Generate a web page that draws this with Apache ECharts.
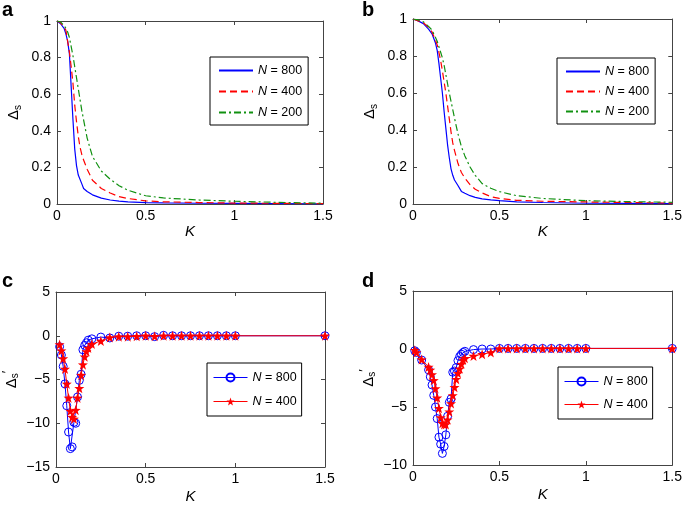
<!DOCTYPE html>
<html>
<head>
<meta charset="utf-8">
<script src="https://cdn.jsdelivr.net/npm/echarts@6/dist/echarts.min.js"></script>
<style>html,body{margin:0;padding:0;background:#fff}#c{width:685px;height:506px}</style>
</head>
<body>
<div id="c"></div>
<script>
// ---------- Panel a ----------
const kA   = [0, 0.02, 0.04, 0.05, 0.06, 0.07, 0.08, 0.09, 0.10, 0.11, 0.12, 0.13, 0.14, 0.15, 0.17, 0.20, 0.25, 0.30, 0.35, 0.40, 0.50, 0.60, 0.80, 1.00, 1.20, 1.50];
const a800 = [1.0, 0.985, 0.96, 0.93, 0.89, 0.82, 0.64, 0.46, 0.30, 0.21, 0.158, 0.15, 0.11, 0.085, 0.068, 0.05, 0.032, 0.022, 0.016, 0.012, 0.008, 0.006, 0.004, 0.003, 0.002, 0.001];
const a400 = [1.0, 0.99, 0.965, 0.95, 0.89, 0.83, 0.75, 0.66, 0.54, 0.45, 0.37, 0.31, 0.27, 0.24, 0.19, 0.13, 0.085, 0.06, 0.04, 0.03, 0.017, 0.012, 0.008, 0.005, 0.004, 0.002];
const a200 = [1.0, 0.995, 0.975, 0.96, 0.94, 0.91, 0.86, 0.81, 0.75, 0.69, 0.63, 0.57, 0.51, 0.46, 0.36, 0.26, 0.18, 0.135, 0.10, 0.075, 0.045, 0.033, 0.022, 0.015, 0.010, 0.004];
// ---------- Panel b ----------
const kB   = [0, 0.03, 0.06, 0.09, 0.11, 0.13, 0.14, 0.15, 0.16, 0.17, 0.18, 0.19, 0.20, 0.21, 0.22, 0.23, 0.24, 0.26, 0.28, 0.30, 0.33, 0.36, 0.40, 0.45, 0.50, 0.60, 0.75, 1.00, 1.25, 1.50];
const b800 = [1.0, 0.99, 0.975, 0.945, 0.92, 0.87, 0.83, 0.76, 0.68, 0.60, 0.50, 0.41, 0.32, 0.25, 0.19, 0.155, 0.13, 0.10, 0.068, 0.058, 0.045, 0.036, 0.028, 0.022, 0.018, 0.012, 0.008, 0.004, 0.003, 0.002];
const b400 = [1.0, 0.99, 0.98, 0.955, 0.93, 0.885, 0.86, 0.82, 0.775, 0.72, 0.66, 0.60, 0.53, 0.46, 0.39, 0.33, 0.29, 0.22, 0.17, 0.14, 0.105, 0.08, 0.06, 0.04, 0.03, 0.02, 0.015, 0.011, 0.008, 0.005];
const b200 = [1.0, 0.995, 0.985, 0.96, 0.94, 0.90, 0.88, 0.85, 0.82, 0.79, 0.75, 0.70, 0.65, 0.60, 0.555, 0.51, 0.465, 0.38, 0.31, 0.26, 0.20, 0.155, 0.11, 0.085, 0.067, 0.045, 0.03, 0.018, 0.013, 0.009];
// ---------- Panel c ----------
const kC   = [0.02, 0.03, 0.04, 0.05, 0.06, 0.07, 0.08, 0.09, 0.10, 0.11, 0.12, 0.13, 0.14, 0.15, 0.16, 0.17, 0.18, 0.20, 0.25, 0.30, 0.35, 0.40, 0.45, 0.50, 0.55, 0.60, 0.65, 0.70, 0.75, 0.80, 0.85, 0.90, 0.95, 1.00, 1.50];
const c800 = [-1.25, -2.2, -3.5, -5.5, -8.0, -11.0, -12.9, -12.7, -9.9, -10.0, -7.0, -5.1, -4.4, -1.6, -1.1, -0.8, -0.5, -0.35, -0.15, -0.25, -0.05, -0.05, 0, 0, -0.1, 0.05, 0, 0, 0, 0, 0, 0, 0, 0, 0];
const c400 = [-1.0, -1.7, -2.6, -3.8, -5.5, -7.1, -8.6, -9.3, -9.5, -8.5, -7.1, -6.0, -4.5, -3.3, -2.4, -1.8, -1.4, -0.95, -0.6, -0.2, -0.1, -0.1, -0.05, 0, -0.05, 0, 0, 0, 0, 0, 0, 0, 0, 0, 0];
// ---------- Panel d ----------
const kD   = [0.01, 0.02, 0.05, 0.09, 0.10, 0.11, 0.12, 0.13, 0.14, 0.15, 0.16, 0.17, 0.18, 0.19, 0.20, 0.21, 0.22, 0.23, 0.24, 0.25, 0.26, 0.27, 0.28, 0.29, 0.30, 0.35, 0.40, 0.45, 0.50, 0.55, 0.60, 0.65, 0.70, 0.75, 0.80, 0.85, 0.90, 0.95, 1.00, 1.50];
const d800 = [-0.15, -0.3, -0.95, -1.8, -2.4, -3.1, -4.0, -5.0, -6.0, -7.6, -8.2, -9.0, -8.4, -7.4, -5.8, -4.6, -4.3, -2.0, -1.9, -1.6, -1.0, -0.65, -0.45, -0.3, -0.2, -0.05, 0, 0, 0.05, 0.05, 0.05, 0.05, 0.05, 0.05, 0.05, 0.05, 0.05, 0.05, 0.05, 0.05];
const d400 = [-0.1, -0.3, -0.9, -1.55, -1.8, -2.2, -2.7, -3.4, -4.2, -5.1, -5.9, -6.4, -6.5, -6.5, -6.1, -5.4, -4.7, -4.0, -3.3, -2.6, -2.1, -1.7, -1.3, -0.95, -0.8, -0.6, -0.45, -0.3, 0.05, 0.05, 0.05, 0.05, 0.05, 0.05, 0.05, 0.05, 0.05, 0.05, 0.05, 0.05];
// ---------- ticks ----------
const kTicks = [0, 0.5, 1, 1.5];
const yTicksAB = [0, 0.2, 0.4, 0.6, 0.8, 1];
const yTicksC = [-15, -10, -5, 0, 5];
const yTicksD = [-10, -5, 0, 5];

const pairs = (xs, ys) => xs.map((x, i) => [x, ys[i]]);
const FONT = '"Liberation Sans", Arial, Helvetica, sans-serif';
const AX = '#444';

const grids = [
  {left: 57, top: 21, width: 266, height: 183},
  {left: 413, top: 19, width: 261, height: 185},
  {left: 56, top: 292, width: 269, height: 175},
  {left: 413, top: 291, width: 260, height: 174}
];
const yRanges = [
  [yTicksAB[0], yTicksAB[yTicksAB.length - 1], 0.2],
  [yTicksAB[0], yTicksAB[yTicksAB.length - 1], 0.2],
  [yTicksC[0], yTicksC[yTicksC.length - 1], 5],
  [yTicksD[0], yTicksD[yTicksD.length - 1], 5]
];
const yNames = ['{d|Δ}{s|s}', '{d|Δ}{s|s}', '{d|Δ}{s|s}{p|′}', '{d|Δ}{s|s}{p|′}'];
const kGaps = [14, 14, 22, 22];

const xAxes = [], yAxes = [];
grids.forEach((g, gi) => {
  ['bottom', 'top'].forEach(pos => {
    xAxes.push({
      type: 'value', gridIndex: gi, position: pos,
      min: kTicks[0], max: kTicks[kTicks.length - 1], interval: 0.5,
      axisLine: {show: true, onZero: false, lineStyle: {color: AX, width: 1}},
      axisTick: {show: true, inside: true, length: 4, lineStyle: {color: AX}},
      axisLabel: {show: pos === 'bottom', color: '#000', fontSize: 14, fontFamily: FONT, margin: 5},
      splitLine: {show: false},
      name: pos === 'bottom' ? 'K' : '',
      nameLocation: 'middle', nameGap: kGaps[gi],
      nameTextStyle: {fontStyle: 'italic', fontSize: 15, color: '#000', fontFamily: FONT, verticalAlign: 'top'}
    });
  });
  ['left', 'right'].forEach(pos => {
    const r = yRanges[gi];
    yAxes.push({
      type: 'value', gridIndex: gi, position: pos,
      min: r[0], max: r[1], interval: r[2],
      axisLine: {show: true, onZero: false, lineStyle: {color: AX, width: 1}},
      axisTick: {show: true, inside: true, length: 4, lineStyle: {color: AX}},
      axisLabel: {show: pos === 'left', color: '#000', fontSize: 14, fontFamily: FONT, margin: 6,
        formatter: v => String(v).replace('-', '\u2212')},
      splitLine: {show: false},
      name: pos === 'left' ? yNames[gi] : '',
      nameLocation: 'middle', nameGap: 34, nameRotate: 90,
      nameTextStyle: {
        color: '#000', fontFamily: FONT,
        rich: {
          d: {fontSize: 15, fontFamily: FONT, color: '#000'},
          s: {fontSize: 10, fontFamily: FONT, color: '#000', padding: [8, 0, 0, 0]},
          p: {fontSize: 13, fontFamily: FONT, color: '#000', padding: [0, 0, 8, 0]}
        }
      }
    });
  });
});

const BLUE = '#0000ff', RED = '#ff0000', GREEN = '#119111';
const starPath = 'path://M0,-10 L2.35,-3.24 9.51,-3.09 3.8,1.24 5.88,8.09 0,4 -5.88,8.09 -3.8,1.24 -9.51,-3.09 -2.35,-3.24Z';

function curve(name, gi, xs, ys, color, type) {
  return {
    name, type: 'line', xAxisIndex: gi * 2, yAxisIndex: gi * 2,
    data: pairs(xs, ys), showSymbol: false, symbol: 'none',
    lineStyle: {color, width: 1.2, type},
    itemStyle: {color},
    z: 3
  };
}
function marked(name, gi, xs, ys, isStar) {
  const color = isStar ? RED : BLUE;
  return {
    name, type: 'line', xAxisIndex: gi * 2, yAxisIndex: gi * 2,
    data: pairs(xs, ys),
    symbol: isStar ? starPath : 'circle',
    symbolSize: isStar ? 10 : 8,
    showSymbol: true,
    lineStyle: {color, width: 1},
    itemStyle: isStar ? {color: RED, borderWidth: 0} : {color: 'rgba(0,0,0,0)', borderColor: BLUE, borderWidth: 1},
    z: isStar ? 4 : 3
  };
}

const series = [
  curve('a800', 0, kA, a800, BLUE, 'solid'),
  curve('a400', 0, kA, a400, RED, [7, 4]),
  curve('a200', 0, kA, a200, GREEN, [7, 3, 2, 3]),
  curve('b800', 1, kB, b800, BLUE, 'solid'),
  curve('b400', 1, kB, b400, RED, [7, 4]),
  curve('b200', 1, kB, b200, GREEN, [7, 3, 2, 3]),
  marked('c800', 2, kC, c800, false),
  marked('c400', 2, kC, c400, true),
  marked('d800', 3, kD, d800, false),
  marked('d400', 3, kD, d400, true)
];

const legBase = {
  orient: 'vertical', backgroundColor: '#fff', borderColor: '#000', borderWidth: 1,
  itemWidth: 34, selectedMode: false,
  formatter: n => '{i|N} = ' + n.slice(1),
  textStyle: {fontSize: 12.5, color: '#000', fontFamily: FONT,
    rich: {i: {fontStyle: 'italic', fontSize: 12.5, color: '#000', fontFamily: FONT}}}
};
const legends = [
  Object.assign({}, legBase, {data: ['a800', 'a400', 'a200'], left: 210, top: 57, padding: [7, 6, 6, 8], itemGap: 8, itemHeight: 13, itemStyle: {opacity: 0}}),
  Object.assign({}, legBase, {data: ['b800', 'b400', 'b200'], left: 557, top: 58, padding: [7, 6, 6, 8], itemGap: 7, itemHeight: 13, itemStyle: {opacity: 0}}),
  Object.assign({}, legBase, {data: ['c800', 'c400'], left: 207, top: 363, padding: [8, 5, 8, 6], itemGap: 11, itemHeight: 10, lineStyle: {width: 1}}),
  Object.assign({}, legBase, {data: ['d800', 'd400'], left: 558, top: 367, padding: [8, 5, 8, 6], itemGap: 10, itemHeight: 10, lineStyle: {width: 1}})
];

const titleStyle = {fontSize: 20, fontWeight: 'bold', color: '#000', fontFamily: FONT};
const titles = [
  {text: 'a', left: 2, top: 0, padding: 0, textStyle: titleStyle},
  {text: 'b', left: 362, top: 0, padding: 0, textStyle: titleStyle},
  {text: 'c', left: 2, top: 271, padding: 0, textStyle: titleStyle},
  {text: 'd', left: 362, top: 271, padding: 0, textStyle: titleStyle}
];

const chart = echarts.init(document.getElementById('c'), null, {renderer: 'canvas'});
chart.setOption({
  animation: false,
  backgroundColor: '#fff',
  title: titles,
  grid: grids,
  xAxis: xAxes,
  yAxis: yAxes,
  legend: legends,
  series
});
</script>
</body>
</html>
